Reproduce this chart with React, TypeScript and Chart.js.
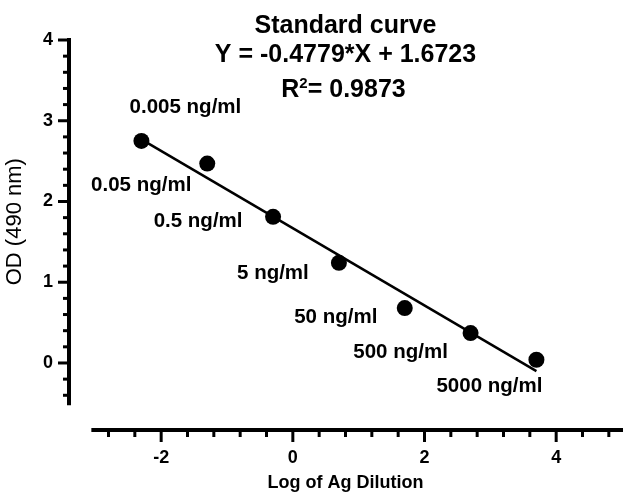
import React, { useEffect, useRef } from 'react';
import { Chart, registerables } from 'chart.js';

Chart.register(...registerables);

// ---- data ----
const logDilution = [-2.3, -1.3, -0.3, 0.7, 1.7, 2.7, 3.7];
const odValues = [2.75, 2.47, 1.81, 1.24, 0.68, 0.37, 0.04];
const pointLabels = ['0.005 ng/ml', '0.05 ng/ml', '0.5 ng/ml', '5 ng/ml', '50 ng/ml', '500 ng/ml', '5000 ng/ml'];
const fitX = [-2.3, 3.7];
const fitY = [2.77, -0.1];

// ---- axes / ticks ----
const xMajorTicks = [-2, 0, 2, 4];
const xMinorTicks = [-2.8, -2.4, -1.6, -1.2, -0.8, -0.4, 0.4, 0.8, 1.2, 1.6, 2.4, 2.8, 3.2, 3.6, 4.4, 4.8];
const yMajorTicks = [0, 1, 2, 3, 4];
const yMinorTicks = [-0.4, -0.2, 0.2, 0.4, 0.6, 0.8, 1.2, 1.4, 1.6, 1.8, 2.2, 2.4, 2.6, 2.8, 3.2, 3.4, 3.6, 3.8];
const xAxisExtent = [-3.03, 5];
const yAxisExtent = [-0.5, 4];

// ---- text ----
const titleLines = ['Standard curve', 'Y = -0.4779*X + 1.6723'];
const rSquaredText = '= 0.9873';
const xAxisTitle = 'Log of Ag Dilution';
const yAxisTitle = 'OD (490 nm)';

// label placement (pixel offsets of label centre from its point)
const labelOffsets = [
  [44, -34],
  [-66, 22],
  [-75, 5],
  [-66, 10],
  [-69, 9],
  [-70, 19],
  [-47, 27],
];

const FONT = 'Arial, "Liberation Sans", sans-serif';

const annotatePlugin = {
  id: 'annotate',
  afterDraw(chart: any) {
    const ctx = chart.ctx as CanvasRenderingContext2D;
    const xs = chart.scales.x;
    const ys = chart.scales.y;
    const area = chart.chartArea;
    ctx.save();
    ctx.strokeStyle = '#000';
    ctx.fillStyle = '#000';

    // axis lines
    const ax = area.left;
    const ay = area.bottom;
    ctx.lineWidth = 4;
    ctx.lineCap = 'square';
    ctx.beginPath();
    ctx.moveTo(ax, ys.getPixelForValue(yAxisExtent[0]));
    ctx.lineTo(ax, ys.getPixelForValue(yAxisExtent[1]));
    ctx.stroke();
    ctx.beginPath();
    ctx.moveTo(xs.getPixelForValue(xAxisExtent[0]), ay);
    ctx.lineTo(xs.getPixelForValue(xAxisExtent[1]), ay);
    ctx.stroke();

    // tick marks
    ctx.lineCap = 'butt';
    ctx.lineWidth = 3;
    const yTick = (v: number, len: number) => {
      const p = ys.getPixelForValue(v);
      ctx.beginPath();
      ctx.moveTo(ax, p);
      ctx.lineTo(ax - len, p);
      ctx.stroke();
    };
    const xTick = (v: number, len: number) => {
      const p = xs.getPixelForValue(v);
      ctx.beginPath();
      ctx.moveTo(p, ay);
      ctx.lineTo(p, ay + len);
      ctx.stroke();
    };
    yMajorTicks.forEach((v) => yTick(v, 11));
    yMinorTicks.forEach((v) => yTick(v, 6));
    xMajorTicks.forEach((v) => xTick(v, 12));
    xMinorTicks.forEach((v) => xTick(v, 7));

    // y axis title
    ctx.save();
    const yMid = (ys.getPixelForValue(yAxisExtent[0]) + ys.getPixelForValue(yAxisExtent[1])) / 2;
    ctx.translate(15, yMid);
    ctx.rotate(-Math.PI / 2);
    ctx.font = `22px ${FONT}`;
    ctx.textAlign = 'center';
    ctx.textBaseline = 'middle';
    ctx.fillText(yAxisTitle, 0, 0);
    ctx.restore();

    // chart title block
    const cx = (area.left + area.right) / 2;
    ctx.font = `bold 25px ${FONT}`;
    ctx.textAlign = 'center';
    ctx.textBaseline = 'alphabetic';
    ctx.fillText(titleLines[0], cx, 33);
    ctx.fillText(titleLines[1], cx, 62);
    // R^2 line
    ctx.font = `bold 25px ${FONT}`;
    const wR = ctx.measureText('R').width;
    const wRest = ctx.measureText(rSquaredText).width;
    ctx.font = `bold 15px ${FONT}`;
    const w2 = ctx.measureText('2').width;
    const total = wR + w2 + wRest;
    const x0 = cx - total / 2 - 2;
    ctx.textAlign = 'left';
    ctx.font = `bold 25px ${FONT}`;
    ctx.fillText('R', x0, 97);
    ctx.font = `bold 15px ${FONT}`;
    ctx.fillText('2', x0 + wR, 88);
    ctx.font = `bold 25px ${FONT}`;
    ctx.fillText(rSquaredText, x0 + wR + w2, 97);

    // point labels
    const meta = chart.getDatasetMeta(1);
    ctx.font = `bold 20.5px ${FONT}`;
    ctx.textAlign = 'center';
    ctx.textBaseline = 'middle';
    meta.data.forEach((el: any, i: number) => {
      const [dx, dy] = labelOffsets[i];
      ctx.fillText(pointLabels[i], el.x + dx, el.y + dy);
    });

    ctx.restore();
  },
};

export default function App() {
  const canvasRef = useRef<HTMLCanvasElement | null>(null);

  useEffect(() => {
    if (!canvasRef.current) return;
    const chart = new Chart(canvasRef.current, {
      type: 'scatter',
      data: {
        datasets: [
          {
            label: 'Fit',
            data: fitX.map((x, i) => ({ x, y: fitY[i] })),
            showLine: true,
            borderColor: '#000',
            borderWidth: 2.5,
            pointRadius: 0,
            backgroundColor: '#000',
          },
          {
            label: 'OD',
            data: logDilution.map((x, i) => ({ x, y: odValues[i] })),
            pointRadius: 8,
            pointHoverRadius: 8,
            backgroundColor: '#000',
            borderWidth: 0,
          },
        ],
      },
      options: {
        animation: false,
        responsive: false,
        events: [],
        layout: { autoPadding: false, padding: { top: 40, right: 1, bottom: 0, left: 0 } },
        plugins: {
          legend: { display: false },
          tooltip: { enabled: false },
          title: { display: false },
        },
        scales: {
          x: {
            type: 'linear',
            min: -3.4,
            max: 5,
            afterBuildTicks: (scale: any) => {
              scale.ticks = xMajorTicks.map((v) => ({ value: v }));
            },
            afterFit: (scale: any) => {
              scale.height = 65;
              scale.paddingLeft = 0;
              scale.paddingRight = 0;
            },
            border: { display: false },
            grid: {
              display: true,
              drawOnChartArea: false,
              drawTicks: true,
              tickLength: 12,
              color: 'rgba(0,0,0,0)',
            },
            ticks: {
              color: '#000',
              font: { family: FONT, size: 18, weight: 'bold' },
              padding: 5,
              maxRotation: 0,
              autoSkip: false,
            },
            title: {
              display: true,
              text: xAxisTitle,
              color: '#000',
              font: { family: FONT, size: 18, weight: 'bold' },
              padding: { top: 0, bottom: 1 },
            },
          },
          y: {
            type: 'linear',
            min: -0.83,
            max: 4,
            afterBuildTicks: (scale: any) => {
              scale.ticks = yMajorTicks.map((v) => ({ value: v }));
            },
            afterFit: (scale: any) => {
              scale.width = 69;
              scale.paddingTop = 0;
              scale.paddingBottom = 0;
            },
            border: { display: false },
            grid: {
              display: true,
              drawOnChartArea: false,
              drawTicks: true,
              tickLength: 12,
              color: 'rgba(0,0,0,0)',
            },
            ticks: {
              color: '#000',
              font: { family: FONT, size: 18, weight: 'bold' },
              padding: 4,
              autoSkip: false,
            },
            title: { display: false },
          },
        },
      } as any,
      plugins: [annotatePlugin],
    });
    return () => chart.destroy();
  }, []);

  return (
    <div style={{ position: 'absolute', left: 0, top: 0, width: 623, height: 495, background: '#fff' }}>
      <canvas ref={canvasRef} width={623} height={495} style={{ display: 'block', width: 623, height: 495 }} />
    </div>
  );
}
